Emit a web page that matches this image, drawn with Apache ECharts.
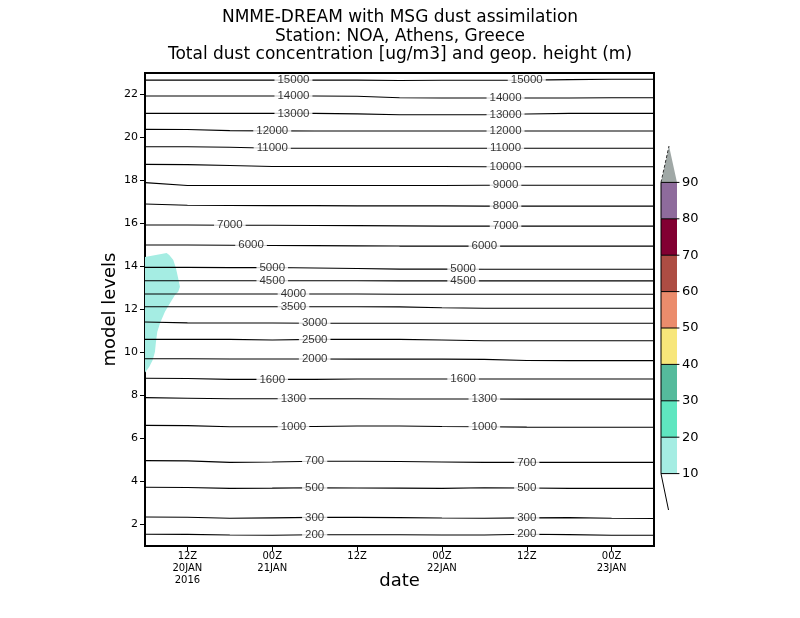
<!DOCTYPE html>
<html>
<head>
<meta charset="utf-8">
<script src="https://cdn.jsdelivr.net/npm/echarts@6/dist/echarts.min.js"></script>
<style>html,body{margin:0;padding:0;background:#fff;}#c{width:800px;height:618px;}</style>
</head>
<body>
<div id="c"></div>
<script>
// time axis: hours since 00Z 20JAN2016
const hours = [6,12,18,24,30,36,42,48,54,60,66,72,78];
const xTickHours = [12,24,36,48,60,72];
const xTickLabels = ['12Z\n20JAN\n2016','00Z\n21JAN','12Z','00Z\n22JAN','12Z','00Z\n23JAN'];
const yTickValues = [2,4,6,8,10,12,14,16,18,20,22];
const titleLines = ['NMME-DREAM with MSG dust assimilation','Station: NOA, Athens, Greece','Total dust concentration [ug/m3] and geop. height (m)'];

// geopotential height contours (m) and the model level they sit at, per time
const contourValues = [15000,14000,13000,12000,11000,10000,9000,8000,7000,6000,5000,4500,4000,3500,3000,2500,2000,1600,1300,1000,700,500,300,200];
const contourLevels = [
  [22.67,22.67,22.67,22.67,22.67,22.67,22.65,22.66,22.66,22.67,22.69,22.71,22.71],
  [21.93,21.93,21.93,21.93,21.93,21.92,21.85,21.84,21.84,21.84,21.84,21.85,21.85],
  [21.12,21.12,21.12,21.12,21.12,21.10,21.06,21.06,21.06,21.09,21.12,21.12,21.12],
  [20.38,20.37,20.32,20.31,20.30,20.30,20.30,20.30,20.30,20.30,20.30,20.30,20.30],
  [19.57,19.57,19.55,19.50,19.50,19.50,19.50,19.50,19.50,19.50,19.50,19.50,19.50],
  [18.75,18.74,18.70,18.65,18.65,18.65,18.65,18.65,18.64,18.64,18.64,18.64,18.64],
  [17.90,17.77,17.77,17.77,17.77,17.77,17.77,17.77,17.78,17.78,17.78,17.78,17.78],
  [16.91,16.85,16.84,16.83,16.83,16.82,16.82,16.82,16.81,16.81,16.81,16.81,16.81],
  [15.93,15.93,15.92,15.92,15.91,15.90,15.89,15.88,15.88,15.88,15.88,15.88,15.88],
  [15.00,15.00,14.99,14.98,14.97,14.96,14.95,14.95,14.95,14.95,14.95,14.95,14.95],
  [13.96,13.96,13.95,13.95,13.93,13.91,13.88,13.88,13.87,13.87,13.87,13.87,13.87],
  [13.34,13.34,13.34,13.34,13.34,13.34,13.33,13.33,13.33,13.33,13.33,13.33,13.33],
  [12.72,12.72,12.72,12.72,12.72,12.72,12.71,12.71,12.71,12.71,12.71,12.71,12.71],
  [12.13,12.13,12.13,12.13,12.13,12.13,12.12,12.08,12.06,12.06,12.06,12.06,12.06],
  [11.42,11.38,11.37,11.37,11.36,11.36,11.36,11.36,11.36,11.36,11.36,11.36,11.36],
  [10.61,10.61,10.61,10.58,10.61,10.61,10.61,10.58,10.55,10.55,10.55,10.55,10.55],
  [9.71,9.71,9.70,9.70,9.70,9.69,9.69,9.69,9.68,9.63,9.62,9.62,9.62],
  [8.80,8.79,8.75,8.75,8.75,8.77,8.77,8.77,8.77,8.77,8.77,8.77,8.77],
  [7.90,7.87,7.85,7.85,7.85,7.85,7.84,7.84,7.84,7.83,7.83,7.83,7.83],
  [6.61,6.60,6.55,6.55,6.56,6.58,6.58,6.56,6.55,6.53,6.52,6.52,6.52],
  [4.97,4.96,4.89,4.91,4.94,4.94,4.93,4.91,4.89,4.89,4.89,4.89,4.89],
  [3.73,3.72,3.68,3.69,3.71,3.70,3.69,3.68,3.71,3.70,3.68,3.68,3.68],
  [2.35,2.34,2.29,2.31,2.33,2.33,2.32,2.30,2.29,2.31,2.32,2.29,2.28],
  [1.55,1.54,1.51,1.50,1.52,1.52,1.52,1.51,1.51,1.55,1.53,1.50,1.50]
];
// hours at which each contour carries its label
const labelHours = [[27,60],[27,57],[27,57],[24,57],[24,57],[57],[57],[57],[18,57],[21,54],[24,51],[24,51],[27],[27],[30],[30],[30],[24,51],[27,54],[27,54],[30,60],[30,60],[30,60],[30,60]];

// 10 ug/m3 dust contour boundary [hour, level]
const dustBoundary = [
  [6.0,14.44],[9.06,14.63],[9.43,14.53],[10.0,14.30],[10.38,13.92],[10.7,13.44],[10.94,13.06],
  [10.7,12.83],[10.24,12.67],[9.53,12.29],[8.82,11.90],[8.12,11.36],[7.74,10.97],[7.55,10.50],
  [7.41,10.04],[7.09,9.65],[6.61,9.34],[6.04,9.08],[6.0,9.08]
];

// colour bar
const colorBreaks = [10,20,30,40,50,60,70,80,90];
const colorBinColors = ['#a5ede3','#5fe6c0','#55bb9c','#f7e67a','#eb8c6c','#ad4d43','#820032','#8e6b9c'];
const overColor = '#a0a8a6';

function levelAt(arr, h) {
  for (let i = 0; i < hours.length - 1; i++) {
    if (h >= hours[i] && h <= hours[i+1]) {
      const t = (h - hours[i]) / (hours[i+1] - hours[i]);
      return arr[i] + t * (arr[i+1] - arr[i]);
    }
  }
  return arr[arr.length-1];
}

const series = [];

series.push({
  type: 'custom', xAxisIndex: 0, yAxisIndex: 0, z: 1, clip: true, silent: true,
  data: [0],
  renderItem: function (params, api) {
    return {
      type: 'polygon',
      shape: { points: dustBoundary.map(p => api.coord(p)) },
      style: { fill: colorBinColors[0], stroke: null }
    };
  }
});

contourValues.forEach((v, k) => {
  series.push({
    type: 'line', xAxisIndex: 0, yAxisIndex: 0, z: 3, silent: true,
    symbol: 'none', smooth: false,
    lineStyle: { color: '#000', width: 1.1 },
    data: hours.map((h, i) => [h, contourLevels[k][i]])
  });
});

const labelData = [];
contourValues.forEach((v, k) => {
  labelHours[k].forEach(h => {
    labelData.push({ value: [h, levelAt(contourLevels[k], h)], name: String(v) });
  });
});
series.push({
  type: 'scatter', xAxisIndex: 0, yAxisIndex: 0, z: 5, silent: true,
  symbolSize: 0,
  data: labelData,
  label: {
    show: true, position: 'inside', formatter: p => p.name,
    fontFamily: 'Liberation Sans', fontSize: 11.5, color: '#000',
    backgroundColor: '#fff', padding: [0, 3, 0, 3], lineHeight: 11
  }
});

// colour bar
const cbData = [];
for (let i = 0; i < colorBinColors.length; i++) cbData.push([colorBreaks[i], colorBreaks[i+1], i]);
series.push({
  type: 'custom', xAxisIndex: 1, yAxisIndex: 1, clip: false, silent: true,
  data: cbData,
  renderItem: function (params, api) {
    const lo = api.value(0), hi = api.value(1), idx = api.value(2);
    const p0 = api.coord([0, hi]), p1 = api.coord([1, lo]);
    const children = [
      { type: 'rect', shape: { x: p0[0], y: p0[1], width: p1[0]-p0[0], height: p1[1]-p0[1] },
        style: { fill: colorBinColors[idx] } },
      { type: 'line', shape: { x1: p0[0], y1: p1[1], x2: api.coord([1.15, lo])[0], y2: p1[1] },
        style: { stroke: '#000', lineWidth: 1 } },
      { type: 'line', shape: { x1: p0[0], y1: p0[1], x2: p0[0], y2: p1[1] },
        style: { stroke: '#000', lineWidth: 1 } }
    ];
    if (idx === colorBinColors.length - 1) {
      const a = api.coord([0, hi]), b = api.coord([0.5, 100]), c = api.coord([1, hi]);
      children.push({ type: 'polygon', shape: { points: [a, b, c] }, style: { fill: overColor } });
      children.push({ type: 'line', shape: { x1: a[0], y1: a[1], x2: b[0], y2: b[1] },
        style: { stroke: '#333', lineWidth: 1, lineDash: [3, 2] } });
      children.push({ type: 'line', shape: { x1: a[0], y1: a[1], x2: api.coord([1.15, hi])[0], y2: a[1] },
        style: { stroke: '#000', lineWidth: 1 } });
    }
    if (idx === 0) {
      const a = api.coord([0, lo]), b = api.coord([0.47, 0]);
      children.push({ type: 'line', shape: { x1: a[0], y1: a[1], x2: b[0], y2: b[1] },
        style: { stroke: '#000', lineWidth: 1 } });
    }
    return { type: 'group', children: children };
  }
});

const chart = echarts.init(document.getElementById('c'), null, { renderer: 'canvas' });
chart.setOption({
  animation: false,
  backgroundColor: '#fff',
  graphic: titleLines.map((t, i) => ({
    type: 'text', x: 400, y: 18 + i * 18.3, z: 10,
    style: { text: t, x: 0, y: 0, align: 'center', verticalAlign: 'middle',
      font: '17px "DejaVu Sans"', fill: '#000' }
  })),
  grid: [
    { left: 145, top: 73, width: 509, height: 473, show: true, borderColor: '#000', borderWidth: 2, backgroundColor: '#fff', containLabel: false },
    { left: 661, top: 146, width: 16, height: 364, show: false, containLabel: false }
  ],
  xAxis: [
    {
      type: 'value', gridIndex: 0, min: 6, max: 78,
      name: 'date', nameLocation: 'middle', nameGap: 26, nameMoveOverlap: false,
      nameTextStyle: { fontFamily: 'DejaVu Sans', fontSize: 18, color: '#000' },
      axisLine: { show: true, lineStyle: { color: '#000', width: 2 } },
      axisTick: { show: true, inside: false, length: 5, lineStyle: { color: '#000' }, customValues: xTickHours },
      axisLabel: {
        customValues: xTickHours,
        formatter: v => xTickLabels[xTickHours.indexOf(v)] || '',
        fontFamily: 'DejaVu Sans', fontSize: 10, color: '#000', lineHeight: 12, margin: 4
      },
      splitLine: { show: false }
    },
    { type: 'value', gridIndex: 1, min: 0, max: 1, show: false }
  ],
  yAxis: [
    {
      type: 'value', gridIndex: 0, min: 1, max: 23,
      name: 'model levels', nameLocation: 'middle', nameGap: 26, nameRotate: 90, nameMoveOverlap: false,
      nameTextStyle: { fontFamily: 'DejaVu Sans', fontSize: 18, color: '#000' },
      axisLine: { show: true, lineStyle: { color: '#000', width: 2 } },
      axisTick: { show: true, inside: false, length: 5, lineStyle: { color: '#000' }, customValues: yTickValues },
      axisLabel: { customValues: yTickValues, fontFamily: 'DejaVu Sans', fontSize: 11, color: '#000', margin: 7 },
      splitLine: { show: false }
    },
    {
      type: 'value', gridIndex: 1, min: 0, max: 100, position: 'right',
      axisLine: { show: false }, axisTick: { show: false }, splitLine: { show: false },
      axisLabel: { customValues: colorBreaks, fontFamily: 'DejaVu Sans', fontSize: 13, color: '#000', margin: 5 }
    }
  ],
  series: series
});
</script>
</body>
</html>
